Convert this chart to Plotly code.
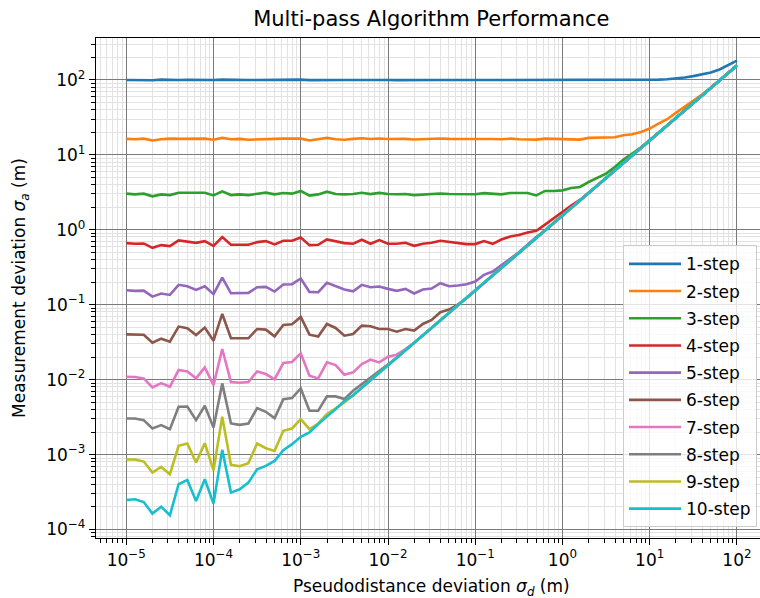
import numpy as np
import plotly.graph_objects as go

# Pseudodistance deviation sweep: 71 log-spaced samples from 1e-5 to 1e2 m
sigma_d = np.logspace(-5, 2, 71)

labels = ["1-step", "2-step", "3-step", "4-step", "5-step",
          "6-step", "7-step", "8-step", "9-step", "10-step"]
colors = ["#1f77b4", "#ff7f0e", "#2ca02c", "#d62728", "#9467bd",
          "#8c564b", "#e377c2", "#7f7f7f", "#bcbd22", "#17becf"]

# Common asymptote that every curve follows once sigma_d dominates (samples 26..70)
asymptote = [0.00617, 0.00777, 0.00978, 0.0123, 0.0155, 0.0195, 0.0246, 0.0309, 0.0389, 0.049,
             0.0617, 0.0777, 0.0978, 0.123, 0.155, 0.195, 0.246, 0.309, 0.389, 0.49,
             0.617, 0.777, 0.978, 1.23, 1.55, 1.95, 2.46, 3.09, 3.89, 4.9,
             6.17, 7.77, 9.78, 12.3, 15.5, 19.5, 24.6, 30.9, 38.9, 49,
             61.7, 77.7, 97.8, 123, 155]
ASYM_START = 26

# Measured sigma_a before each curve joins the asymptote
step1 = [99.5, 99, 99.5, 98.5, 100.5, 99.5, 99.5, 100, 99.5, 100, 99.5, 100.5, 99.5, 99, 99.5,
         99.5, 100, 99.5, 100, 100, 100.5, 99, 99.5, 100.5, 100, 99.5, 99.5, 100, 99.5, 99.5,
         99.5, 99, 99.5, 99.5, 100, 99.5, 99.5, 99.5, 100, 99.5, 99.5, 99.5, 99.5, 99.5, 99.5,
         99, 99.5, 99.5, 99.5, 100, 99.5, 99.5, 99.5, 100, 99.5, 99.5, 100, 99.5, 99.5, 99.5,
         99.5, 100.5, 102, 104, 107.6, 112, 118, 125.5, 137.6, 155.6, 180]
step2 = [16.3, 16.1, 16.4, 15.5, 16.1, 16.4, 16.3, 16.4, 16.4, 16.4, 15.9, 16.8, 16.1, 16.3,
         15.9, 16.1, 16.4, 16.3, 16.4, 16.4, 16.4, 15.5, 16.1, 16.8, 16.1, 15.9,
         16.3, 16.6, 16.2, 16.5, 16.2, 16.3, 16.3, 16.0, 16.2, 16.3, 16.5, 16.3, 16.3, 16.2,
         16.2, 16.5, 16.2, 16.1, 16.4, 16.1, 15.95, 15.95, 16.4, 16.3, 16.3, 16.4, 15.95, 16.8,
         16.96, 16.96, 17.1, 18.2, 18.8, 20.2, 22.4, 26.1, 29.8, 36.3, 43.6, 53.5, 63.5, 79,
         99, 124, 156]
step3 = [3.03, 2.96, 3.03, 2.79, 2.96, 2.90, 3.12, 3.12, 3.09, 3.12, 2.87, 3.25, 2.90, 2.96,
         2.90, 3.03, 3.12, 2.96, 3.09, 3.03, 3.29, 2.85, 2.96, 3.22, 2.99, 2.96,
         3.0, 3.12, 2.99, 3.1, 3.0, 2.98, 3.0, 2.9, 2.96, 3.0, 3.05, 3.0, 3.0, 2.97, 2.98,
         3.08, 3.0, 2.96, 3.09, 3.09, 3.09, 2.87, 3.29, 3.29, 3.35, 3.60, 3.72, 4.33, 4.90,
         5.6, 6.88, 8.62, 10.4, 12.6, 15.8]
step4 = [0.663, 0.649, 0.656, 0.574, 0.623, 0.604, 0.719, 0.698, 0.669, 0.705, 0.610, 0.797,
         0.630, 0.630, 0.630, 0.683, 0.705, 0.636, 0.712, 0.712, 0.789, 0.623, 0.630, 0.742,
         0.698, 0.663, 0.649, 0.734, 0.649, 0.727, 0.649, 0.649, 0.669, 0.610, 0.649, 0.669,
         0.712, 0.683, 0.663, 0.643, 0.643, 0.705, 0.649, 0.74, 0.81, 0.85, 0.92, 0.97, 1.17,
         1.42, 1.75, 2.1, 2.5]
step5 = [0.156, 0.153, 0.154, 0.128, 0.141, 0.135, 0.184, 0.176, 0.1575, 0.176, 0.138, 0.230,
         0.142, 0.1437, 0.1437, 0.171, 0.1728, 0.1496, 0.1857, 0.1876, 0.2233, 0.148, 0.1466,
         0.1954, 0.1783, 0.159, 0.151, 0.184, 0.171, 0.1745, 0.1625, 0.153, 0.1625, 0.141,
         0.159, 0.164, 0.1935, 0.176, 0.18, 0.1876, 0.2037, 0.25, 0.277, 0.333, 0.409, 0.502,
         0.64, 0.80]
step6 = [0.0402, 0.0398, 0.0398, 0.0311, 0.0352, 0.0321, 0.0510, 0.0484, 0.0394, 0.0494,
         0.0331, 0.0752, 0.0356, 0.0356, 0.0356, 0.0474, 0.0465, 0.0378, 0.0537, 0.0547,
         0.0686, 0.0398, 0.0375, 0.0553, 0.0489, 0.0386, 0.0407, 0.0526, 0.0515, 0.0474,
         0.0474, 0.0437, 0.0474, 0.0451, 0.0553, 0.0626, 0.0792, 0.086, 0.1003, 0.122]
step7 = [0.01093, 0.01082, 0.01039, 0.00787, 0.0090, 0.00804, 0.01343, 0.01288, 0.01039,
         0.01457, 0.00846, 0.02563, 0.00928, 0.00909, 0.00928, 0.01288, 0.01187, 0.01008,
         0.01665, 0.01717, 0.02244, 0.01127, 0.01039, 0.01699, 0.01566, 0.01163, 0.0125,
         0.01615, 0.01845, 0.01699, 0.0202, 0.02153, 0.0256, 0.031]
step8 = [0.00303, 0.00303, 0.00288, 0.00223, 0.00247, 0.00218, 0.00434, 0.00438, 0.00288,
         0.00448, 0.0023, 0.00891, 0.0026, 0.00249, 0.0026, 0.00417, 0.00372, 0.00306, 0.0055,
         0.00567, 0.00763, 0.00384, 0.00384, 0.00597, 0.00597, 0.0055, 0.00711, 0.00873,
         0.01071, 0.0129, 0.0158]
step9 = [0.000858, 0.000858, 0.000807, 0.000575, 0.000685, 0.000546, 0.001307, 0.001405,
         0.000782, 0.001419, 0.000618, 0.00319, 0.000728, 0.000699, 0.000766, 0.001405,
         0.001217, 0.00112, 0.002074, 0.00223, 0.00297, 0.00218, 0.0026, 0.00347, 0.00413,
         0.00496]
step10 = [0.000248, 0.000253, 0.000233, 0.000163, 0.000202, 0.000155, 0.000402, 0.000459,
          0.00024, 0.000469, 0.000222, 0.001156, 0.000311, 0.000344, 0.000423, 0.000637,
          0.000706, 0.000824, 0.001144, 0.001377, 0.001725, 0.00197, 0.00255, 0.00319,
          0.00404, 0.00522]

measured = [step1, step2, step3, step4, step5, step6, step7, step8, step9, step10]

x_tickvals = [1e-5, 1e-4, 1e-3, 1e-2, 1e-1, 1e0, 1e1, 1e2]
x_ticktext = ["10<sup>−5</sup>", "10<sup>−4</sup>", "10<sup>−3</sup>", "10<sup>−2</sup>",
              "10<sup>−1</sup>", "10<sup>0</sup>", "10<sup>1</sup>", "10<sup>2</sup>"]
y_tickvals = [1e-4, 1e-3, 1e-2, 1e-1, 1e0, 1e1, 1e2]
y_ticktext = ["10<sup>−4</sup>", "10<sup>−3</sup>", "10<sup>−2</sup>", "10<sup>−1</sup>",
              "10<sup>0</sup>", "10<sup>1</sup>", "10<sup>2</sup>"]


def full_curve(own):
    """Measured head of a curve followed by the shared asymptote."""
    return list(own) + asymptote[len(own) - ASYM_START:]


fig = go.Figure()
for name, color, own in zip(labels, colors, measured):
    fig.add_trace(go.Scatter(
        x=sigma_d, y=full_curve(own), mode="lines", name=name, legendgroup=name,
        line=dict(color=color, width=2.6),
    ))

FONT = "DejaVu Sans"
MAJOR_GRID = "#7a7a7a"
MINOR_GRID = "#e2e2e2"

axis_common = dict(
    type="log",
    showline=True, linecolor="black", linewidth=1.3,
    ticks="outside", ticklen=6, tickwidth=1.2, tickcolor="black",
    showgrid=True, gridcolor=MAJOR_GRID, gridwidth=1.3,
    zeroline=False,
    tickfont=dict(family=FONT, size=17, color="black"),
    minor=dict(dtick="D1", ticks="outside", ticklen=3.5, tickwidth=1, tickcolor="black",
               showgrid=True, gridcolor=MINOR_GRID, gridwidth=1),
)

fig.update_layout(
    width=760, height=598,
    margin=dict(l=96, r=0, t=38, b=60),
    paper_bgcolor="white", plot_bgcolor="white",
    font=dict(family=FONT, color="black"),
    title=dict(text="Multi-pass Algorithm Performance", x=0.505, xref="paper",
               xanchor="center", y=1 - 19 / 598, yref="container", yanchor="middle",
               font=dict(family=FONT, size=21, color="black")),
    xaxis=dict(axis_common, range=[-5.347, 2.264], mirror=True,
               tickvals=x_tickvals, ticktext=x_ticktext),
    yaxis=dict(axis_common, range=[-4.113, 2.558], mirror=False,
               tickvals=y_tickvals, ticktext=y_ticktext),
    legend=dict(x=0.9955, y=0.0214, xanchor="right", yanchor="bottom",
                bgcolor="rgba(255,255,255,0.8)", bordercolor="#cccccc", borderwidth=1,
                font=dict(family=FONT, size=17, color="black"),
                tracegroupgap=2.1, traceorder="grouped", itemwidth=52),
    showlegend=True,
)

fig.add_annotation(text="Pseudodistance deviation <i>σ</i><sub><i>d</i></sub> (m)",
                   xref="paper", yref="paper", x=0.5053, y=0, yshift=-49,
                   xanchor="center", yanchor="middle", showarrow=False,
                   font=dict(family=FONT, size=17, color="black"))
fig.add_annotation(text="Measurement deviation <i>σ</i><sub><i>a</i></sub> (m)",
                   xref="paper", yref="paper", x=-0.1145, y=0.5, textangle=-90,
                   xanchor="center", yanchor="middle", showarrow=False,
                   font=dict(family=FONT, size=17, color="black"))

fig.write_html("out.html")
